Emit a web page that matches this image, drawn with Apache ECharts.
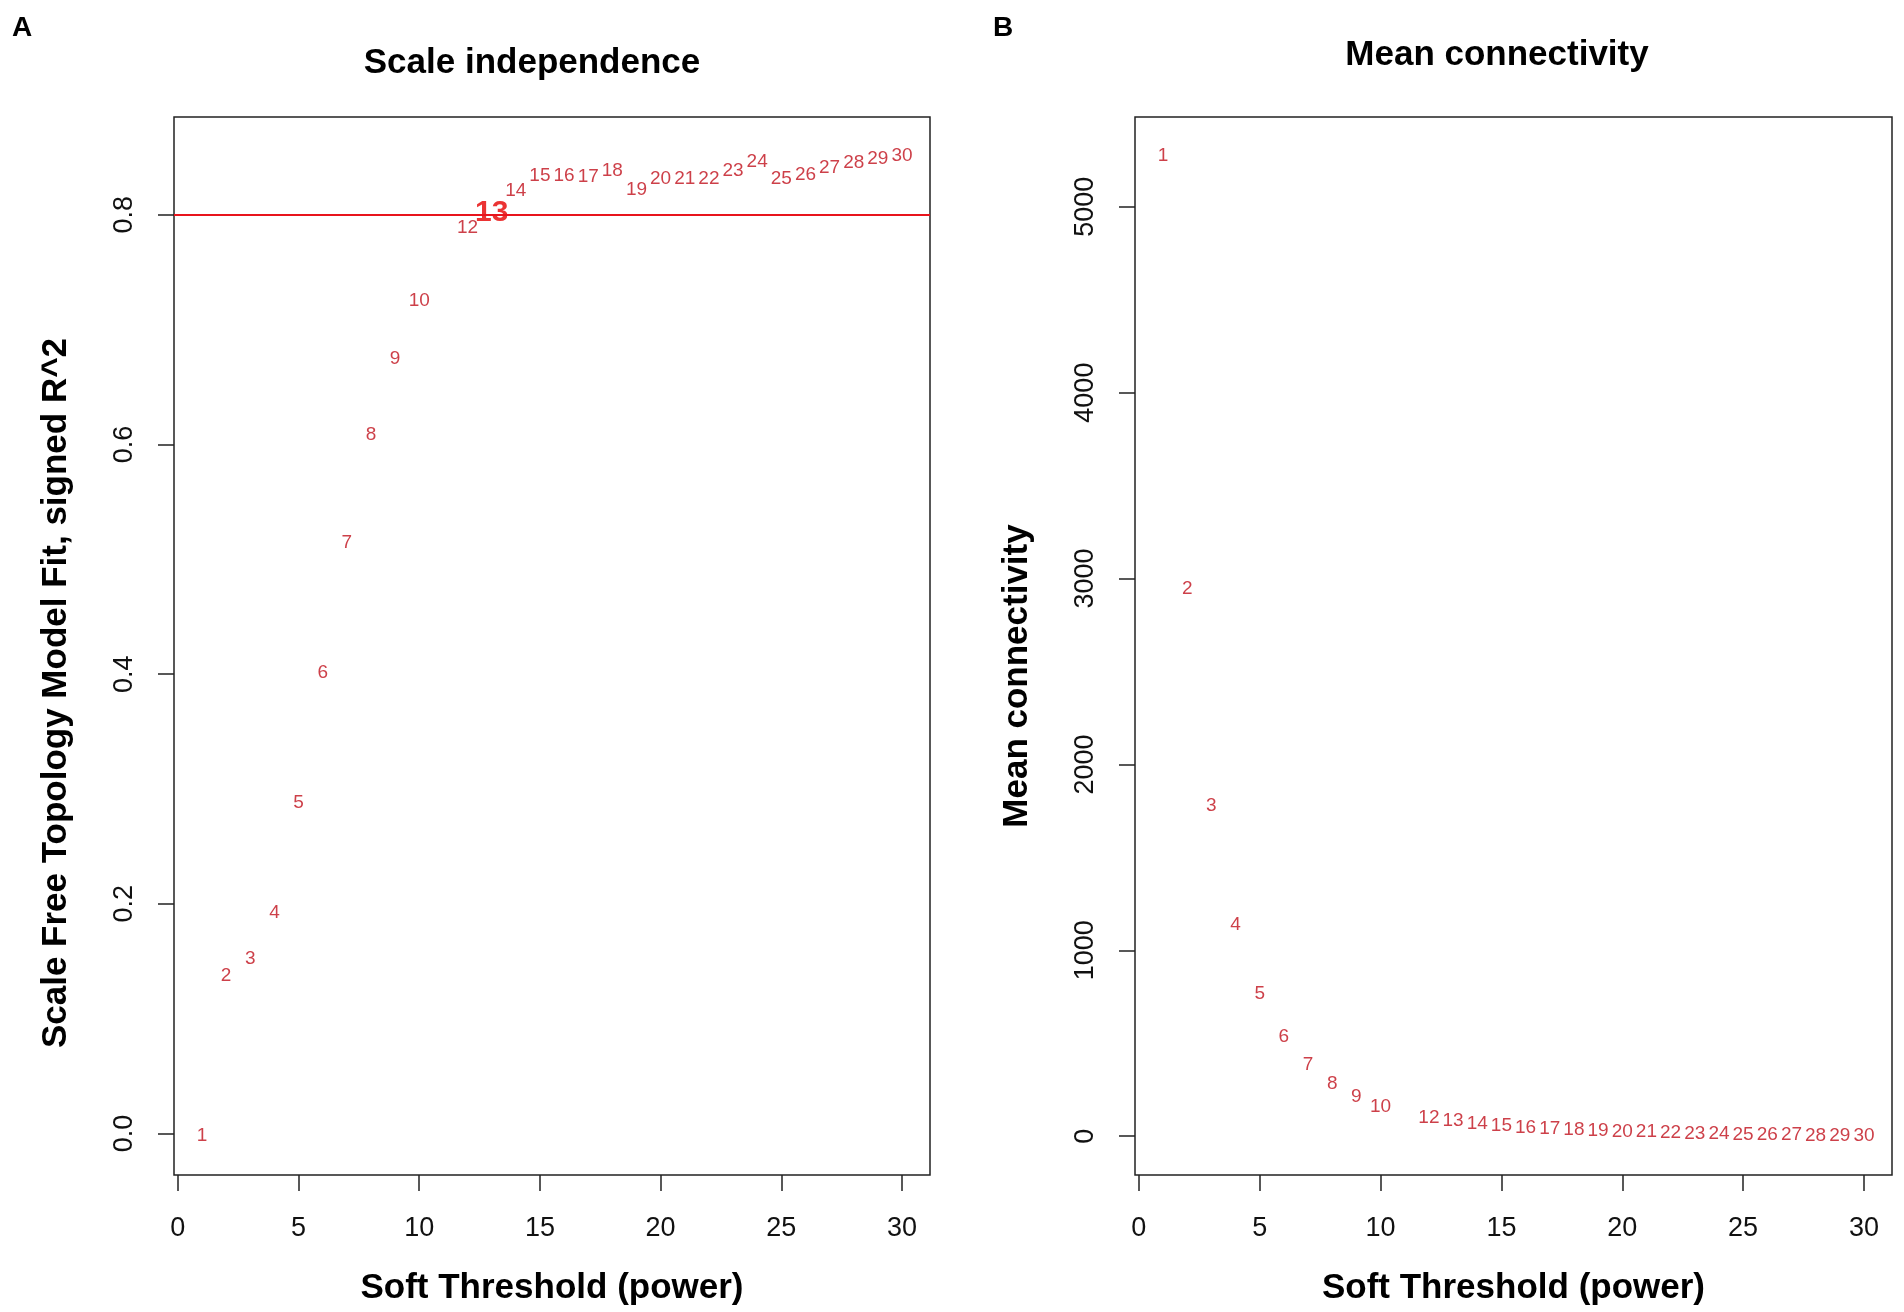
<!DOCTYPE html>
<html>
<head>
<meta charset="utf-8">
<title>Scale independence / Mean connectivity</title>
<script src="https://cdn.jsdelivr.net/npm/echarts@6/dist/echarts.min.js"></script>
<style>
    html, body { margin: 0; padding: 0; background: #fff; }
    #chart { width: 1904px; height: 1312px; }
</style>
</head>
<body>
<div id="chart"></div>
<script>
// Soft-threshold powers (11 is not in the picture)
const powers = [1, 2, 3, 4, 5, 6, 7, 8, 9, 10, 12, 13, 14, 15, 16, 17, 18, 19, 20, 21, 22, 23, 24, 25, 26, 27, 28, 29, 30];

// Scale free topology fit, signed R^2
const fitR2 = [-0.002, 0.137, 0.152, 0.192, 0.288, 0.401, 0.514, 0.608, 0.675, 0.725,
    0.789, 0.802, 0.821, 0.834, 0.834, 0.833, 0.838, 0.822, 0.831, 0.831,
    0.831, 0.838, 0.846, 0.831, 0.835, 0.841, 0.845, 0.849, 0.851];

// Mean connectivity
const meanK = [5272, 2944, 1777, 1140, 766, 533, 385, 280, 212, 160,
    98, 84, 68, 56, 47, 41, 35, 31, 26, 23,
    18, 15, 12, 10, 7, 5, 4, 3, 2];

// Tick labels
const xTicks = [0, 5, 10, 15, 20, 25, 30];
const yTicksFit = [0.0, 0.2, 0.4, 0.6, 0.8];
const yTicksK = [0, 1000, 2000, 3000, 4000, 5000];

const cutoff = 0.8;
const chosenPower = 13;

const FONT = '"Liberation Sans", Arial, Helvetica, sans-serif';
const LABEL_RED = '#c0101c';

// R style axis range: data range widened by 4% each side
function rRange(values) {
    const lo = Math.min(...values);
    const hi = Math.max(...values);
    const pad = (hi - lo) * 0.04;
    return [lo - pad, hi + pad];
}

const xRange = rRange(powers);
const fitRange = rRange(fitR2);
const kRange = rRange(meanK);

function pointData(ys) {
    return powers.map((p, i) => {
        const item = { value: [p, ys[i]], name: String(p) };
        if (ys === fitR2 && p === chosenPower) {
            item.label = { fontSize: 30, fontWeight: 'bold', color: '#e60000' };
        }
        return item;
    });
}

function xAxisFor(gridIndex) {
    return {
        type: 'value',
        gridIndex: gridIndex,
        min: xRange[0],
        max: xRange[1],
        name: 'Soft Threshold (power)',
        nameLocation: 'middle',
        nameGap: 96,
        nameTextStyle: { fontFamily: FONT, fontSize: 35, fontWeight: 'bold', color: '#000' },
        axisLine: { show: false, onZero: false },
        axisTick: { show: true, customValues: xTicks, length: 16, lineStyle: { color: '#222', width: 1.5 } },
        axisLabel: { customValues: xTicks, fontFamily: FONT, fontSize: 27, color: '#111', margin: 40 },
        splitLine: { show: false }
    };
}

function yAxisFor(gridIndex, range, ticks, title, fmt, pad) {
    return {
        type: 'value',
        gridIndex: gridIndex,
        min: range[0],
        max: range[1],
        name: title,
        nameLocation: 'middle',
        nameGap: 100,
        nameTextStyle: { fontFamily: FONT, fontSize: 35, fontWeight: 'bold', color: '#000', padding: [0, pad, 0, 0] },
        axisLine: { show: false, onZero: false },
        axisTick: { show: true, customValues: ticks, length: 16, lineStyle: { color: '#222', width: 1.5 } },
        axisLabel: { customValues: ticks, rotate: 90, fontFamily: FONT, fontSize: 27, color: '#111', margin: 36, formatter: fmt },
        splitLine: { show: false }
    };
}

const labelStyle = {
    show: true,
    position: 'inside',
    formatter: '{b}',
    fontFamily: FONT,
    fontSize: 19,
    color: LABEL_RED
};

const chart = echarts.init(document.getElementById('chart'), null, { renderer: 'canvas' });

chart.setOption({
    backgroundColor: '#fff',
    animation: false,
    title: [
        { text: 'A', left: 12, top: 14, padding: 0, textStyle: { fontFamily: FONT, fontSize: 28, fontWeight: 'bold', color: '#000' } },
        { text: 'B', left: 993, top: 14, padding: 0, textStyle: { fontFamily: FONT, fontSize: 28, fontWeight: 'bold', color: '#000' } },
        { text: 'Scale independence', left: 532, textAlign: 'center', top: 46, padding: 0, textStyle: { fontFamily: FONT, fontSize: 35, fontWeight: 'bold', color: '#000' } },
        { text: 'Mean connectivity', left: 1497, textAlign: 'center', top: 38, padding: 0, textStyle: { fontFamily: FONT, fontSize: 35, fontWeight: 'bold', color: '#000' } }
    ],
    grid: [
        { left: 174, top: 117, width: 756, height: 1058, show: true, borderColor: '#222', borderWidth: 1.5, backgroundColor: 'transparent' },
        { left: 1135, top: 117, width: 757, height: 1058, show: true, borderColor: '#222', borderWidth: 1.5, backgroundColor: 'transparent' }
    ],
    xAxis: [xAxisFor(0), xAxisFor(1)],
    yAxis: [
        yAxisFor(0, fitRange, yTicksFit, 'Scale Free Topology Model Fit, signed R^2', v => v.toFixed(1), 94),
        yAxisFor(1, kRange, yTicksK, 'Mean connectivity', v => String(Math.round(v)), 60)
    ],
    series: [
        {
            type: 'scatter',
            xAxisIndex: 0,
            yAxisIndex: 0,
            symbol: 'circle',
            symbolSize: 1,
            itemStyle: { color: 'rgba(0,0,0,0)' },
            label: labelStyle,
            data: pointData(fitR2),
            silent: true,
            markLine: {
                silent: true,
                symbol: ['none', 'none'],
                label: { show: false },
                lineStyle: { color: '#e8141c', width: 2, type: 'solid' },
                data: [{ yAxis: cutoff }]
            }
        },
        {
            type: 'scatter',
            xAxisIndex: 1,
            yAxisIndex: 1,
            symbol: 'circle',
            symbolSize: 1,
            itemStyle: { color: 'rgba(0,0,0,0)' },
            label: labelStyle,
            data: pointData(meanK),
            silent: true
        }
    ]
});
</script>
</body>
</html>
